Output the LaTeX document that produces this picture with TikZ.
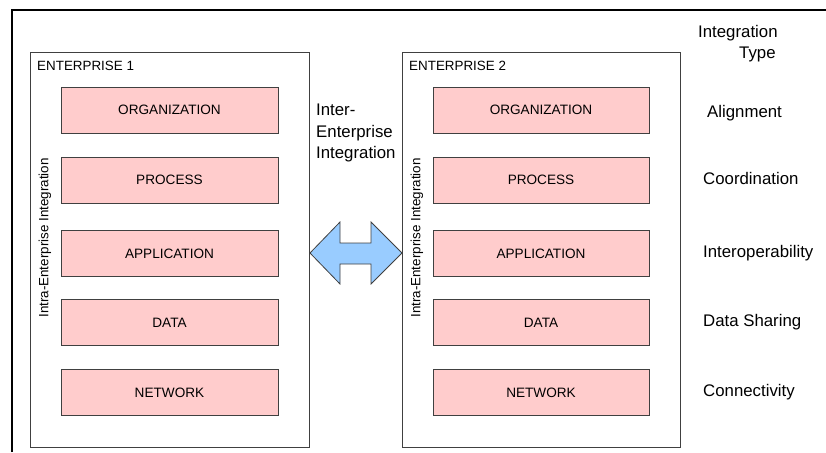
\documentclass[tikz,border=0pt]{standalone}
\usepackage{fontspec}
\setmainfont{Liberation Sans}
\definecolor{pinkfill}{HTML}{FFCCCC}
\definecolor{arrowblue}{HTML}{99CCFF}
\definecolor{edge}{HTML}{404040}
\begin{document}
\begin{tikzpicture}[x=1pt,y=-1pt,
  entbox/.style={draw=edge, line width=0.9pt, fill=white, minimum width=279pt, minimum height=395pt, inner sep=0pt},
  layerbox/.style={draw=edge, line width=0.9pt, fill=pinkfill, minimum height=46pt, inner sep=0pt, font=\fontsize{13.6}{16}\selectfont},
  smalltxt/.style={inner sep=0pt, font=\fontsize{13.4}{16}\selectfont},
  bigtxt/.style={inner sep=0pt, font=\fontsize{16.8}{21.5}\selectfont},
  typetxt/.style={bigtxt, anchor=west}
]
\useasboundingbox (0,0) rectangle (826,452);
% outer frame
\draw[line width=1.2pt] (12,452) -- (12,10) -- (826,10);

% enterprise boxes
\node[entbox] (e1) at (169.5,249.5) {};
\node[entbox, minimum width=278pt] (e2) at (541,249.5) {};
\node[smalltxt, anchor=west] (e1t) at (37,66) {ENTERPRISE 1};
\node[smalltxt, anchor=west] (e2t) at (409,66) {ENTERPRISE 2};

% layers
\foreach \n/\t/\y in {org/ORGANIZATION/110, proc/PROCESS/180, app/APPLICATION/253.5, data/DATA/322.5, net/NETWORK/392.5}{
  \node[layerbox, minimum width=217pt] (a\n) at (169.5,\y) {\t};
  \node[layerbox, minimum width=216pt] (b\n) at (541,\y) {\t};
}

% vertical labels
\node[smalltxt, rotate=90] (v1) at (45,238) {Intra-Enterprise Integration};
\node[smalltxt, rotate=90] (v2) at (417,238) {Intra-Enterprise Integration};

% inter-enterprise label
\node[bigtxt, align=left, anchor=west] (inter) at (316,133) {Inter-\\Enterprise\\Integration};

% double arrow
\draw[draw=edge, line width=0.8pt, fill=arrowblue, line join=miter]
  (310,253) -- (340,222) -- (340,243) -- (371,243) -- (371,222) -- (402,253)
  -- (371,284) -- (371,264) -- (340,264) -- (340,284) -- cycle;

% integration type
\node[bigtxt, anchor=west] (it1) at (698,33) {Integration};
\node[bigtxt, anchor=west] (it2) at (739,54) {Type};
\node[typetxt] (t1) at (707,113) {Alignment};
\node[typetxt] (t2) at (703,178) {Coordination};
\node[typetxt] (t3) at (703,253) {Interoperability};
\node[typetxt] (t4) at (703,322) {Data Sharing};
\node[typetxt] (t5) at (703,392) {Connectivity};
\end{tikzpicture}
\end{document}
